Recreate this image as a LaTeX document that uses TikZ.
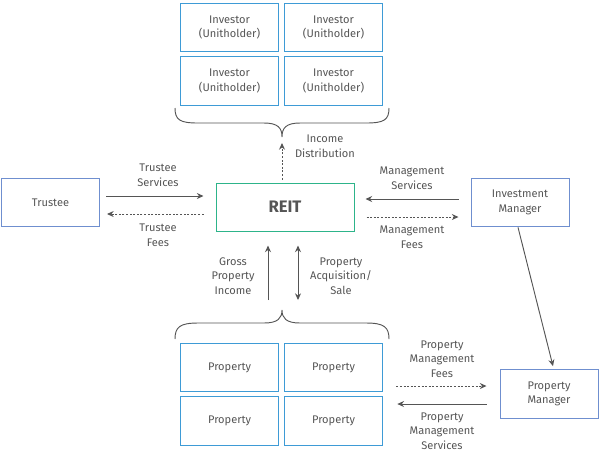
\documentclass[tikz,border=0pt]{standalone}
\usepackage{fontspec}
\setmainfont{Fira Sans}
\usepackage{xcolor}
\usetikzlibrary{arrows.meta,calc}
\definecolor{lblue}{HTML}{3E9BD6}
\definecolor{dblue}{HTML}{6F8FCF}
\definecolor{reitgreen}{HTML}{2DB48A}
\definecolor{txtgray}{HTML}{555555}
\begin{document}
\begin{tikzpicture}[
    x=0.75pt, y=-0.75pt,
    font=\fontsize{8.3}{11}\selectfont, text=txtgray,
    unit/.style={rectangle, draw=lblue, line width=0.75pt, minimum width=74pt, minimum height=36.5pt, inner sep=0pt, align=center},
    party/.style={rectangle, draw=dblue, line width=0.75pt, minimum width=73.5pt, minimum height=36.5pt, inner sep=0pt, align=center},
    label/.style={align=center, inner sep=0pt},
    arrow/.style={-{Stealth[length=5pt, width=4.5pt]}, draw=txtgray, line width=0.7pt},
    dasharrow/.style={arrow, dash pattern=on 1.5pt off 1.2pt},
    brace/.style={draw=txtgray, line width=0.7pt},
]
    \useasboundingbox (0,0) rectangle (605,455);

    % Investors
    \node[unit] (inv1) at (229.5,27.5) {Investor\\(Unitholder)};
    \node[unit] (inv2) at (333.5,27.5) {Investor\\(Unitholder)};
    \node[unit] (inv3) at (229.5,81) {Investor\\(Unitholder)};
    \node[unit] (inv4) at (333.5,81) {Investor\\(Unitholder)};

    % Parties
    \node[party] (trustee) at (50.5,202.5) {Trustee};
    \node[rectangle, draw=reitgreen, line width=0.75pt, minimum width=103.5pt, minimum height=36pt, inner sep=0pt,
          font=\fontsize{12.5}{14}\selectfont\bfseries] (reit) at (285,207) {REIT};
    \node[party] (im) at (520,202.5) {Investment\\Manager};
    \node[party] (pm) at (549,394) {Property\\Manager};

    % Properties
    \node[unit] (prop1) at (229.5,367.5) {Property};
    \node[unit] (prop2) at (333.5,367.5) {Property};
    \node[unit] (prop3) at (229.5,421) {Property};
    \node[unit] (prop4) at (333.5,421) {Property};

    % Braces
    \coordinate (topbrace) at (282,137);
    \coordinate (botbrace) at (282,310);
    \draw[brace] (175,108) .. controls (175,120) and (180,123) .. (198,123) -- (264,123)
        .. controls (278,123) and (282,128) .. (topbrace)
        .. controls (282,128) and (286,123) .. (300,123) -- (366,123)
        .. controls (384,123) and (389,120) .. (389,108);
    \draw[brace] (175,339) .. controls (175,327) and (180,323) .. (198,323) -- (264,323)
        .. controls (278,323) and (282,318) .. (botbrace)
        .. controls (282,318) and (286,323) .. (300,323) -- (366,323)
        .. controls (384,323) and (389,327) .. (389,339);

    % Arrows
    \draw[dasharrow] ($(reit.north)+(-3,-3)$) -- ($(topbrace)+(0,6)$);
    \draw[arrow] ($(trustee.east)+(6,-6.5)$) -- ($(reit.west)+(-12,-11)$);
    \draw[dasharrow] ($(reit.west)+(-12,7)$) -- ($(trustee.east)+(7,11.5)$);
    \draw[arrow] ($(im.west)+(-12,-3.5)$) -- ($(reit.east)+(11,-8)$);
    \draw[dasharrow] ($(reit.east)+(12,10)$) -- ($(im.west)+(-12,14.5)$);
    \draw[arrow] ($(im.south)+(-2,0)$) -- ($(pm.north)+(4,-3)$);
    \draw[arrow] ($(botbrace)+(-14,-10)$) -- ($(reit.south)+(-17,14)$);
    \draw[arrow, {Stealth[length=5pt, width=4.5pt]}-{Stealth[length=5pt, width=4.5pt]}] ($(reit.south)+(13,14)$) -- ($(botbrace)+(16,-10)$);
    \draw[dasharrow] ($(prop2.east)+(13,18.5)$) -- ($(pm.west)+(-13,-8)$);
    \draw[arrow] ($(pm.west)+(-13,10)$) -- ($(prop4.east)+(14,-17)$);

    % Labels
    \node[label] (incomelbl) at (325,146.5) {Income\\Distribution};
    \node[label] (tservlbl) at (158,175.5) {Trustee\\Services};
    \node[label] (tfeelbl) at (158,235) {Trustee\\Fees};
    \node[label] (mservlbl) at (412,178) {Management\\Services};
    \node[label] (mfeelbl) at (412,237) {Management\\Fees};
    \node[label] (grosslbl) at (233,276) {Gross\\Property\\Income};
    \node[label] (acqlbl) at (341,276) {Property\\Acquisition/\\Sale};
    \node[label] (pmfeelbl) at (442,359) {Property\\Management\\Fees};
    \node[label] (pmservlbl) at (442,431) {Property\\Management\\Services};
\end{tikzpicture}
\end{document}
